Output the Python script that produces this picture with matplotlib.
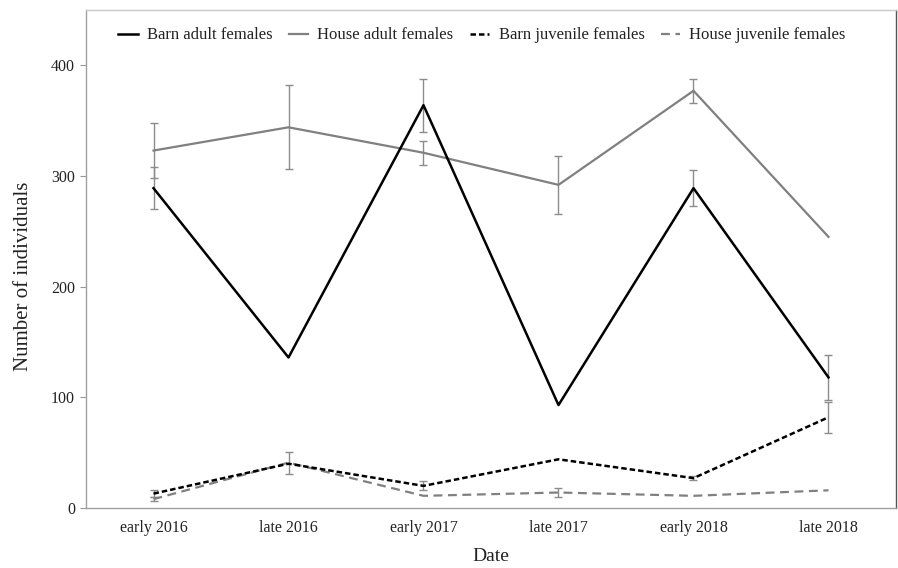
import matplotlib
matplotlib.use("Agg")
import matplotlib.pyplot as plt
import numpy as np

dates = ['early 2016', 'late 2016', 'early 2017', 'late 2017', 'early 2018', 'late 2018']
barn_adult = [289, 136, 364, 93, 289, 118]
barn_adult_err = [19, 0, 24, 0, 16, 20]
house_adult = [323, 344, 321, 292, 377, 245]
house_adult_err = [25, 38, 11, 26, 11, 0]
barn_juv = [13, 40, 20, 44, 27, 82]
barn_juv_err = [3, 0, 4, 0, 2, 14]
house_juv = [8, 41, 11, 14, 11, 16]
house_juv_err = [2, 10, 0, 4, 0, 0]
yticks = [0, 100, 200, 300, 400]

plt.rcParams['font.family'] = ['Liberation Serif', 'DejaVu Serif']

fig = plt.figure(figsize=(8.98, 5.68), dpi=100)
ax = fig.add_axes([86/898, 1-508/568, (896-86)/898, (508-10)/568])

x = np.arange(len(dates))
GRAY = '#808080'
ERR = '#8c8c8c'

def draw_err(vals, errs):
    v = np.array(vals, float)
    e = np.array(errs, float)
    m = e > 0
    ax.errorbar(x[m], v[m], yerr=e[m], fmt='none', ecolor=ERR, elinewidth=1.0,
                capsize=3, capthick=1.0, zorder=1)

ax.plot(x, barn_adult, color='black', lw=1.8, label='Barn adult females', zorder=3)
ax.plot(x, house_adult, color=GRAY, lw=1.6, label='House adult females', zorder=2)
ax.plot(x, barn_juv, color='black', lw=1.8, ls=(0, (2.2, 1.2)), label='Barn juvenile females', zorder=3)
ax.plot(x, house_juv, color=GRAY, lw=1.6, ls=(0, (4, 2.5)), label='House juvenile females', zorder=2)

for v, e in [(barn_adult, barn_adult_err), (house_adult, house_adult_err),
             (barn_juv, barn_juv_err), (house_juv, house_juv_err)]:
    draw_err(v, e)

ax.set_xlim(-0.5, 5.5)
ax.set_ylim(0, 450)
ax.set_xticks(x)
ax.set_xticklabels(dates, fontsize=11.5, color='#222222')
ax.set_yticks(yticks)
ax.set_yticklabels([str(t) for t in yticks], fontsize=11.5, color='#222222')
ax.tick_params(axis='x', length=0, pad=9)
ax.tick_params(axis='y', length=4, color='#999999', pad=4)

for s in ['left', 'bottom']:
    ax.spines[s].set_color('#a0a0a0')
ax.spines['top'].set_color('#c8c8c8')
ax.spines['right'].set_color('#555555')
for s in ax.spines.values():
    s.set_linewidth(1.0)

ax.set_ylabel('Number of individuals', fontsize=15, color='#222222')
ax.yaxis.set_label_coords(-0.066, 0.466)
ax.set_xlabel('Date', fontsize=14, color='#222222', labelpad=8)

leg = ax.legend(loc='upper center', bbox_to_anchor=(0.489, 0.995), ncol=4, frameon=False,
                fontsize=12, handlelength=1.15, handletextpad=0.55, columnspacing=1.0)
for t in leg.get_texts():
    t.set_color('#222222')

fig.savefig('out.png', dpi=100)
